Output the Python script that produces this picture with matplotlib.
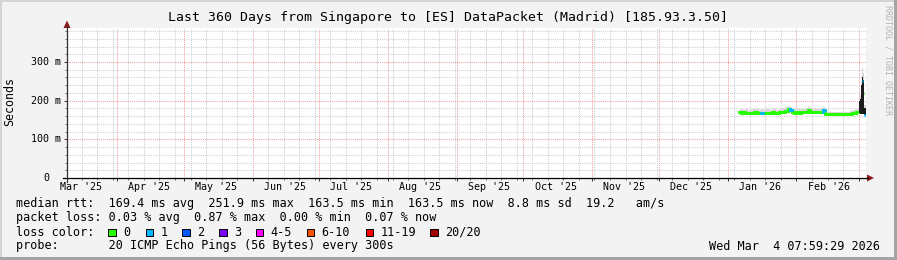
import matplotlib
matplotlib.use('Agg')
import matplotlib.pyplot as plt
import matplotlib.dates as mdates
import matplotlib.transforms as mtrans
from matplotlib.patches import Rectangle, Polygon
from matplotlib.lines import Line2D
import numpy as np
import pandas as pd

# ------------------------------------------------------------------ data
title = "Last 360 Days from Singapore to [ES] DataPacket (Madrid) [185.93.3.50]"
range_start = "2025-03-09 08:00"
range_end = "2026-03-04 08:00"

daily_times = pd.date_range("2026-01-06", "2026-02-28", freq="D")
halfday_times = pd.to_datetime(["2026-03-01 00:00", "2026-03-01 12:00", "2026-03-02 00:00",
                                "2026-03-02 12:00", "2026-03-03 00:00", "2026-03-03 12:00"])
sample_times = daily_times.append(halfday_times)

median_ms = [
    # Jan 6 .. Jan 31
    169.5, 169.0, 169.5, 169.0, 168.5, 169.0, 169.0, 169.5, 169.0, 168.5, 169.0, 168.0, 168.5,
    169.0, 169.0, 169.5, 169.0, 169.0, 169.5, 170.5, 172.0, 174.0, 178.5, 176.0, 170.0, 169.0,
    # Feb 1 .. Feb 28
    169.5, 169.0, 170.0, 169.5, 170.0, 175.0, 170.5, 170.0, 170.5, 170.0, 170.0, 171.0, 176.0,
    165.5, 165.0, 165.0, 164.5, 165.0, 165.0, 164.5, 165.0, 165.0, 164.5, 165.0, 165.5, 167.0,
    168.5, 170.0,
    # Mar 1 .. Mar 3 (half days)
    169.5, 172.0, 190.0, 251.9, 220.0, 163.5,
]
loss_count = [
    0, 0, 0, 0, 0, 0, 0, 0, 0, 0, 1, 0, 0,
    0, 0, 0, 0, 0, 0, 0, 0, 0, 0, 1, 0, 0,
    0, 0, 0, 0, 0, 0, 0, 0, 0, 0, 0, 0, 1,
    0, 0, 0, 0, 0, 0, 0, 0, 0, 0, 0, 0, 0,
    0, 0,
    0, 0, 0, 1, 0, 1,
]
smoke_hi_ms = [
    177, 178, 177, 178, 177, 177, 178, 179, 178, 177, 178, 177, 179,
    178, 177, 178, 178, 177, 178, 179, 181, 183, 186, 183, 178, 178,
    179, 178, 179, 179, 180, 183, 180, 179, 180, 179, 179, 181, 184,
    172, 171, 171, 171, 172, 171, 171, 172, 171, 171, 172, 173, 175,
    177, 178,
    205, 215, 250, 285, 272, 190,
]
smoke_lo_ms = [
    168, 168, 168, 168, 167, 168, 168, 168, 168, 167, 168, 167, 167,
    168, 168, 168, 168, 168, 168, 169, 170, 172, 176, 174, 168, 168,
    168, 168, 169, 168, 169, 173, 169, 169, 169, 169, 169, 170, 174,
    164, 164, 164, 163, 164, 164, 163, 164, 164, 163, 164, 164, 166,
    167, 169,
    168, 170, 172, 172, 170, 162,
]
dark_lo_ms = [np.nan] * 54 + [167, 166, 166, 166, 166, 163]
dark_hi_ms = [np.nan] * 54 + [198, 205, 240, 262, 254, 182]

loss_labels = ["0", "1", "2", "3", "4-5", "6-10", "11-19", "20/20"]
loss_colors = ["#26ff00", "#00b8ff", "#0059ff", "#7e00ff", "#ff00ff", "#ff5500", "#ff0000", "#a10000"]

y_major = [0.1, 0.2, 0.3]
y_major_labels = ["100 m", "200 m", "300 m"]

legend_rtt = "median rtt:  169.4 ms avg  251.9 ms max  163.5 ms min  163.5 ms now  8.8 ms sd  19.2   am/s"
legend_loss = "packet loss: 0.03 % avg  0.87 % max  0.00 % min  0.07 % now"
legend_probe = "probe:       20 ICMP Echo Pings (56 Bytes) every 300s"
stamp = "Wed Mar  4 07:59:29 2026"

# ------------------------------------------------------------------ figure
W, H = 897, 260
fig = plt.figure(figsize=(W / 100, H / 100), dpi=100)
fig.patch.set_facecolor('#f3f3f3')
MONO = 'DejaVu Sans Mono'


def fx(px):
    return px / W


def fy(py):
    return 1 - py / H


# 3D border
fig.add_artist(Rectangle((0, fy(2)), 1, 2 / H, transform=fig.transFigure, color='#d4d4d4', lw=0))
fig.add_artist(Rectangle((0, 0), 2 / W, 1, transform=fig.transFigure, color='#d4d4d4', lw=0))
fig.add_artist(Rectangle((0, 0), 1, 3 / H, transform=fig.transFigure, color='#a4a4a4', lw=0))
fig.add_artist(Rectangle((fx(894), 0), 3 / W, 1, transform=fig.transFigure, color='#a4a4a4', lw=0))

L, R, T, B = 67, 866, 28, 178
ax = fig.add_axes([fx(L), fy(B), (R - L) / W, (B - T) / H])
ax.set_facecolor('white')
for s in ax.spines.values():
    s.set_visible(False)

t0 = pd.Timestamp(range_start)
t1 = pd.Timestamp(range_end)
ax.set_xlim(t0, t1)
ax.set_ylim(0, 0.388)

ax.xaxis.set_major_locator(mdates.MonthLocator(bymonthday=1))
ax.xaxis.set_minor_locator(mdates.WeekdayLocator(byweekday=mdates.SU))
ax.set_yticks(y_major)
ax.set_yticks(np.arange(0.02, 0.388, 0.02), minor=True)
ax.tick_params(which='major', direction='out', length=2.5, width=0.7, color='#333333',
               labelbottom=False, labelleft=False)
ax.tick_params(which='minor', direction='out', length=1.6, width=0.6, color='#555555',
               labelbottom=False, labelleft=False)

dot = (0, (1, 1))
ax.grid(which='minor', axis='both', color='#d0d0d0', linestyle=dot, lw=0.75)
ax.grid(which='major', axis='both', color='#f2a0a0', linestyle=dot, lw=0.75)
ax.set_axisbelow(True)

# ------------------------------------------------------------------ smoke + median
tt = list(sample_times) + [t1]
med = np.array(median_ms) / 1000
hi = np.array(smoke_hi_ms) / 1000
lo = np.array(smoke_lo_ms) / 1000
dlo = np.array(dark_lo_ms) / 1000
dhi = np.array(dark_hi_ms) / 1000
in_dark = ~np.isnan(dlo)


def ext(a):
    return np.append(a, a[-1])


ax.fill_between(tt, ext(lo), ext(hi), step='post', color='#d6d6d6', lw=0, zorder=2)
ax.fill_between(tt, ext(dlo), ext(dhi), step='post', color='#1c1c1c', lw=0, zorder=4.5)

LW = 2.0
n = len(med)
for i in range(n):
    c = loss_colors[min(loss_count[i], 7)]
    z = 5 if loss_count[i] > 0 else 4
    cap = 'butt' if in_dark[i] else 'projecting'
    ax.plot([tt[i], tt[i + 1]], [med[i], med[i]], color=c, lw=LW, zorder=z,
            solid_capstyle=cap)
    if i > 0 and not in_dark[i] and not in_dark[i - 1]:
        ax.plot([tt[i], tt[i]], [med[i - 1], med[i]], color=c, lw=LW, zorder=z)

# ------------------------------------------------------------------ axes, arrows
fig.add_artist(Line2D([fx(63), fx(868)], [fy(B), fy(B)], transform=fig.transFigure,
                      color='black', lw=0.9))
fig.add_artist(Line2D([fx(L), fx(L)], [fy(182), fy(26)], transform=fig.transFigure,
                      color='#333333', lw=0.9))
fig.add_artist(Polygon([[fx(867), fy(174.5)], [fx(874), fy(B)], [fx(867), fy(181.5)]],
                       closed=True, transform=fig.transFigure, color='#8b1c1c', lw=0))
fig.add_artist(Polygon([[fx(63.5), fy(28)], [fx(L), fy(20.5)], [fx(70.5), fy(28)]],
                       closed=True, transform=fig.transFigure, color='#8b1c1c', lw=0))

# y tick labels
ytr = mtrans.blended_transform_factory(fig.transFigure, ax.transData)
for v, s in zip(y_major, y_major_labels):
    ax.text(fx(61), v, s, transform=ytr, ha='right', va='center', family=MONO, size=7.2)
ax.text(fx(49), 0, "0", transform=ytr, ha='right', va='center', family=MONO, size=7.2)

# x month labels (centered mid-month)
xtr = mtrans.blended_transform_factory(ax.transData, fig.transFigure)
for m in pd.date_range("2025-03-01", "2026-02-01", freq="MS"):
    pos = m + pd.Timedelta(days=14, hours=12)
    ax.text(pos, fy(187), m.strftime("%b '%y"), transform=xtr, ha='center', va='center',
            family=MONO, size=7.2)

fig.text(fx(10), fy(102), "Seconds", rotation=90, ha='center', va='center', family=MONO, size=8.4)
fig.text(fx(448), fy(18), title, ha='center', va='center', family=MONO, size=9.5)
fig.text(fx(888), fy(60), "RRDTOOL / TOBI OETIKER", rotation=270, ha='center', va='center',
         family=MONO, size=6, color='#b4b4b4')

# ------------------------------------------------------------------ legend
LS = 8.5
fig.text(fx(16), fy(204), legend_rtt, ha='left', va='center', family=MONO, size=LS)
fig.text(fx(16), fy(218), legend_loss, ha='left', va='center', family=MONO, size=LS)
fig.text(fx(16), fy(232), "loss color:", ha='left', va='center', family=MONO, size=LS)
box_x = [108.3, 145.7, 182.3, 219, 255.7, 306.7, 365.7, 430]
for bx, lab, col in zip(box_x, loss_labels, loss_colors):
    fig.add_artist(Rectangle((fx(bx), fy(236)), 7.5 / W, 7.5 / H, transform=fig.transFigure,
                             facecolor=col, edgecolor='black', lw=0.7))
    fig.text(fx(bx + 14.7), fy(232), lab, ha='left', va='center', family=MONO, size=LS)
fig.text(fx(16), fy(246), legend_probe, ha='left', va='center', family=MONO, size=LS)
fig.text(fx(880), fy(246), stamp, ha='right', va='center', family=MONO, size=LS)

fig.savefig('out.png', dpi=100, facecolor=fig.get_facecolor())
